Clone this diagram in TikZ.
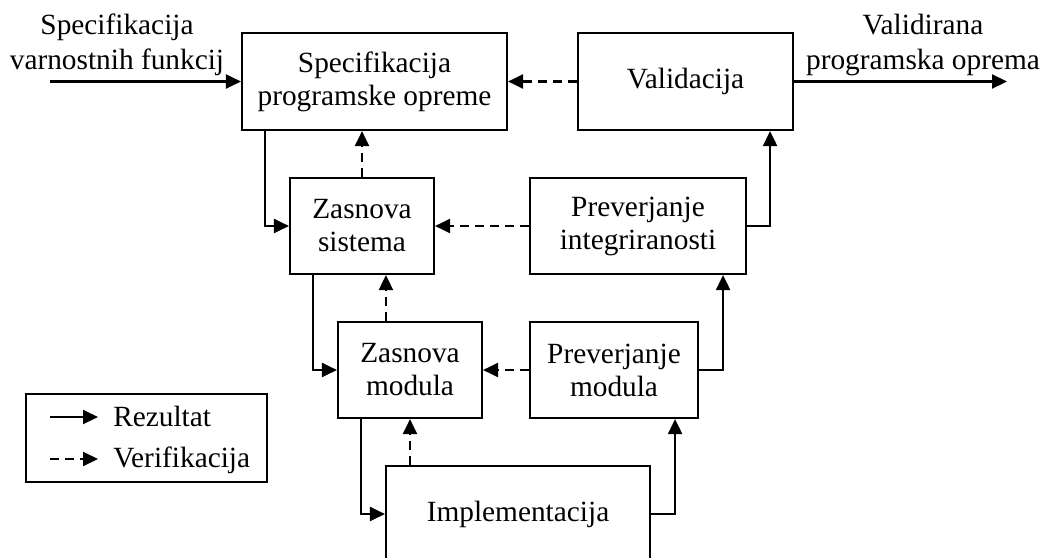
\documentclass[tikz,border=0pt]{standalone}
\usepackage{fontspec}
\setmainfont{Liberation Serif}
\usetikzlibrary{arrows.meta}

\begin{document}
\begin{tikzpicture}[x=0.75pt,y=-0.75pt,
  every node/.style={font=\fontsize{22}{24.75}\selectfont},
  block/.style 2 args={draw, line width=1.6pt, align=center, inner sep=0pt,
    minimum width=#1*0.75pt, minimum height=#2*0.75pt},
  link/.style={line width=1.6pt, -{Triangle[length=11.25pt,width=10.5pt]}},
  res/.style={link},
  ver/.style={link, dash pattern=on 6.75pt off 4.5pt},
  lbl/.style={align=center, inner sep=0pt, font=\fontsize{22}{26.25}\selectfont},
  keytext/.style={anchor=base west, inner sep=0pt}
]
% page frame
\useasboundingbox (0,0) rectangle (1045,557);
\fill[white] (0,0) rectangle (1045,557);
\clip (0,0) rectangle (1045,557);

% process blocks
\node[block={265}{97}] (spec) at (374.5,81.5) {Specifikacija\\programske opreme};
\node[block={215}{97}] (val)  at (685.5,81.5) {Validacija};
\node[block={144}{96}] (zs)   at (362,226)    {Zasnova\\sistema};
\node[block={216}{96}] (pi)   at (638,226)    {Preverjanje\\integriranosti};
\node[block={144}{96}] (zm)   at (410,370)    {Zasnova\\modula};
\node[block={168}{96}] (pm)   at (614,370)    {Preverjanje\\modula};
\node[block={264}{96}] (impl) at (518,514)    {Implementacija};

% external input and output
\coordinate (in)  at (50,81.5);
\coordinate (out) at (1007,81.5);
\node[lbl] (inlbl)  at (117,45) {Specifikacija\\varnostnih funkcij};
\node[lbl] (outlbl) at (923,45) {Validirana\\programska oprema};
\draw[res] (in) -- (spec.west);
\draw[res] (val.east) -- (out);

% results (down the left side, up the right side)
\draw[res] ([xshift=24*0.75pt]spec.south west) |- (zs.west);
\draw[res] ([xshift=24*0.75pt]zs.south west) |- (zm.west);
\draw[res] ([xshift=24*0.75pt]zm.south west) |- (impl.west);
\draw[res] (impl.east) -| ([xshift=-24*0.75pt]pm.south east);
\draw[res] (pm.east) -| ([xshift=-24*0.75pt]pi.south east);
\draw[res] (pi.east) -| ([xshift=-24*0.75pt]val.south east);

% verification
\draw[ver] (zs.north) -- (zs.north |- spec.south);
\draw[ver] ([xshift=49*0.75pt]zm.north west) -- ([xshift=97*0.75pt]zs.south west);
\draw[ver] (impl.north -| zm.south) -- (zm.south);
\draw[ver] (val.west) -- (spec.east);
\draw[ver] (pi.west) -- (zs.east);
\draw[ver] (pm.west) -- (zm.east);

% key
\node[draw, line width=1.6pt, inner sep=0pt, minimum width=241*0.75pt,
      minimum height=88*0.75pt] (key) at (146.5,438) {};
\coordinate (k1a) at (50,417);
\coordinate (k1b) at (98,417);
\coordinate (k2a) at (50,459);
\coordinate (k2b) at (98,459);
\draw[res] (k1a) -- (k1b);
\draw[ver] (k2a) -- (k2b);
\node[keytext] (k1) at (113,426) {Rezultat};
\node[keytext] (k2) at (113,467) {Verifikacija};
\end{tikzpicture}
\end{document}
